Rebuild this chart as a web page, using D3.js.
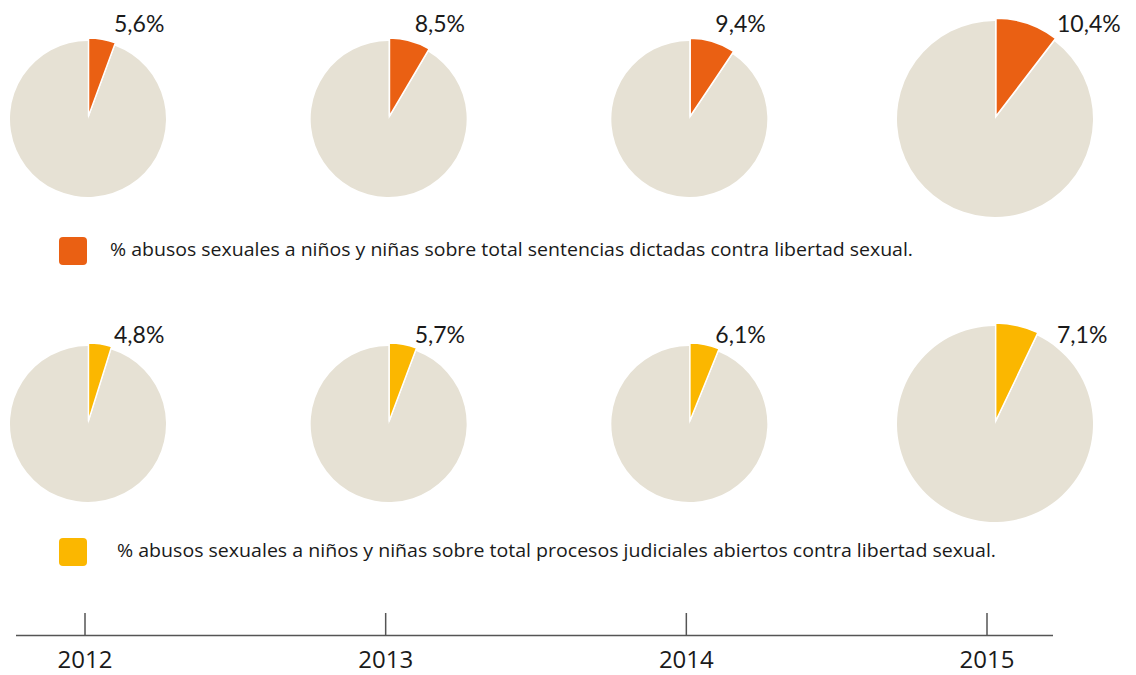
<!DOCTYPE html>
<html>
<head>
<meta charset="utf-8">
<script src="https://cdn.jsdelivr.net/npm/d3@7"></script>
<style>
  body { margin: 0; background: #fff; }
  text { fill: #1a1a1a; }
</style>
</head>
<body>
<div id="chart"></div>
<script>
// chart data
const years = ["2012", "2013", "2014", "2015"];
const sentencias = [5.6, 8.5, 9.4, 10.4];   // % sobre sentencias dictadas
const procesos = [4.8, 5.7, 6.1, 7.1];      // % sobre procesos judiciales abiertos
const legendLabels = [
  "% abusos sexuales a niños y niñas sobre total sentencias dictadas contra libertad sexual.",
  "% abusos sexuales a niños y niñas sobre total procesos judiciales abiertos contra libertad sexual."
];

const WIDTH = 1136, HEIGHT = 675;
const REST_COLOR = "#e6e1d4";
const COLORS = ["#ea6013", "#fbb700"];
const FONT = "Lato, 'Open Sans', sans-serif";

const svg = d3.select("#chart").append("svg")
  .attr("width", WIDTH)
  .attr("height", HEIGHT);

// x position of each year (shared by pies and axis)
const x = d3.scalePoint().domain(years).range([85, 987]);

// rows: one per series
const rows = [
  {values: sentencias, color: COLORS[0], cy: 119, labelY: 32, legendY: 237, legendTextX: 110, legendW: 803},
  {values: procesos, color: COLORS[1], cy: 424, labelY: 343, legendY: 538, legendTextX: 117, legendW: 879}
];

const pie = d3.pie().sort(null).value(d => d);
const fmt = v => d3.format(".1f")(v).replace(".", ",") + "%";

rows.forEach((row, ri) => {
  row.values.forEach((v, i) => {
    const big = i === years.length - 1;   // last year drawn larger
    const r = big ? 98 : 78;
    const cx = x(years[i]) + (big ? 8 : 3);
    const g = svg.append("g").attr("transform", `translate(${cx},${row.cy})`);
    const arcs = pie([v, 100 - v]);
    const arc = d3.arc().innerRadius(0).outerRadius(r);

    // rest of the pie
    g.append("path")
      .attr("d", arc(arcs[1]))
      .attr("fill", REST_COLOR);

    // highlighted slice, pulled out a little
    const mid = (arcs[0].startAngle + arcs[0].endAngle) / 2;
    g.append("path")
      .attr("d", arc(arcs[0]))
      .attr("transform", `translate(${3 * Math.sin(mid)},${-3 * Math.cos(mid)})`)
      .attr("fill", row.color)
      .attr("stroke", "#fff")
      .attr("stroke-width", 1.5)
      .attr("stroke-linejoin", "round");

    // percentage label
    svg.append("text")
      .attr("x", cx + (big ? 62 : 26))
      .attr("y", row.labelY)
      .attr("font-family", FONT)
      .attr("font-size", "23px")
      .text(fmt(v));
  });

  // legend
  svg.append("rect")
    .attr("x", 59)
    .attr("y", row.legendY)
    .attr("width", 28)
    .attr("height", 28)
    .attr("rx", 4)
    .attr("fill", row.color);

  svg.append("text")
    .attr("x", row.legendTextX)
    .attr("y", row.legendY + 19)
    .attr("font-family", "'Open Sans', sans-serif")
    .attr("font-size", "18px")
    .attr("textLength", row.legendW)
    .attr("lengthAdjust", "spacingAndGlyphs")
    .text(legendLabels[ri]);
});

// year axis
const axisY = 635.5;
const axis = svg.append("g");
axis.append("line")
  .attr("x1", 16).attr("x2", 1053)
  .attr("y1", axisY).attr("y2", axisY)
  .attr("stroke", "#555")
  .attr("stroke-width", 1.5);

axis.selectAll(".tick")
  .data(years)
  .join("line")
  .attr("class", "tick")
  .attr("x1", d => x(d)).attr("x2", d => x(d))
  .attr("y1", 613).attr("y2", axisY)
  .attr("stroke", "#555")
  .attr("stroke-width", 1.5);

axis.selectAll(".year")
  .data(years)
  .join("text")
  .attr("class", "year")
  .attr("x", d => x(d))
  .attr("y", 668)
  .attr("text-anchor", "middle")
  .attr("font-family", "'Open Sans', sans-serif")
  .attr("font-size", "24px")
  .text(d => d);
</script>
</body>
</html>
